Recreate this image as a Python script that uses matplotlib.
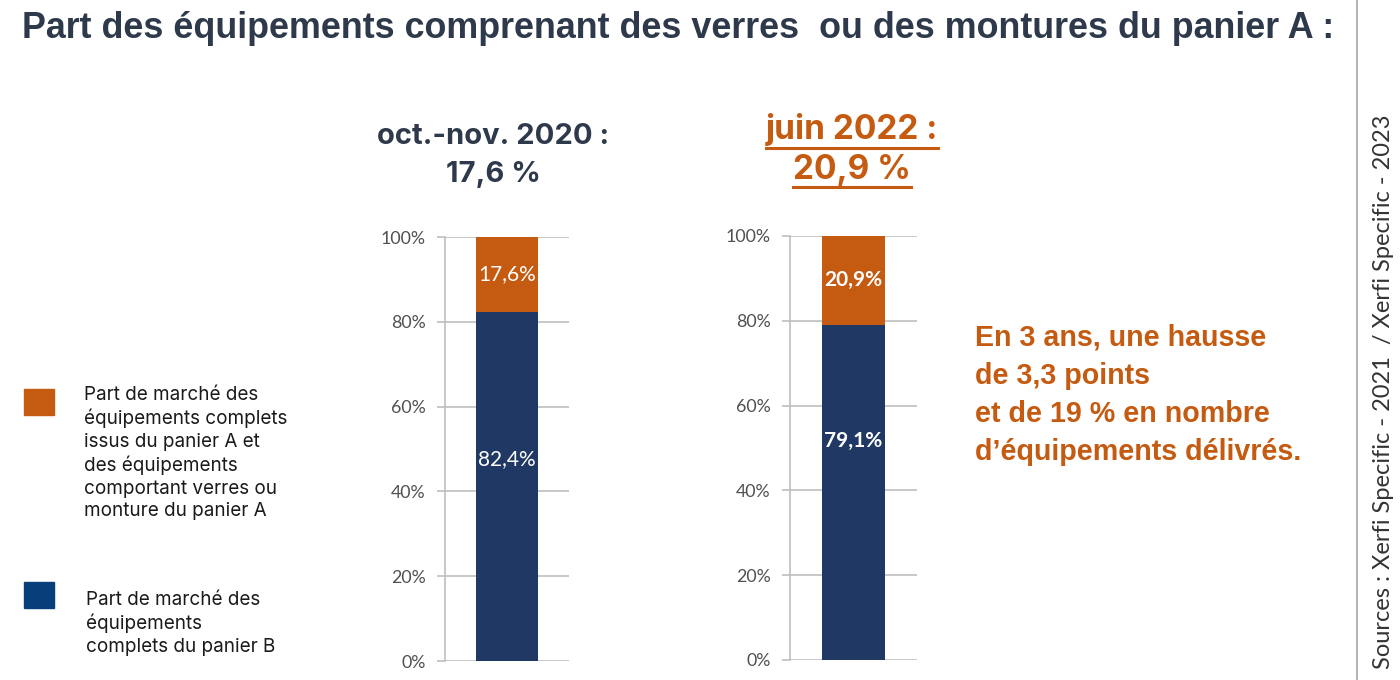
import matplotlib
matplotlib.use("Agg")
import matplotlib.pyplot as plt
from matplotlib.lines import Line2D

# --- data ---
periods = ["oct.-nov. 2020", "juin 2022"]
panier_a = [17.6, 20.9]
panier_b = [82.4, 79.1]
label_a = ["17,6%", "20,9%"]
label_b = ["82,4%", "79,1%"]
headline = ["17,6 %", "20,9 %"]
yticks = [0, 20, 40, 60, 80, 100]

ORANGE = "#c55a11"
NAVY = "#203864"
LEG_BLUE = "#063f7a"
DARK = "#2e3a4b"
GRID = "#bfbfbf"

W, H = 1400, 680
fig = plt.figure(figsize=(W / 100, H / 100), dpi=100)


def px_axes(left, right, top, bottom):
    return fig.add_axes([left / W, 1 - bottom / H, (right - left) / W, (bottom - top) / H])


# axes boxes in pixels: left, right, top, bottom
boxes = [(445, 569, 237, 661), (790, 917, 236, 660)]
label_b_y = [47.6, 51.6]   # where the white labels sit inside the blue bars
bold_lbl = [False, True]

for i, box in enumerate(boxes):
    ax = px_axes(*box)
    ax.bar([0], [panier_b[i]], width=0.5, color=NAVY, zorder=3)
    ax.bar([0], [panier_a[i]], bottom=[panier_b[i]], width=0.5, color=ORANGE, zorder=3)
    ax.set_xlim(-0.5, 0.5)
    ax.set_ylim(0, 100)
    ax.set_yticks(yticks)
    ax.set_yticklabels([f"{t}%" for t in yticks], fontfamily="Lato", fontsize=12.8, color="#505050")
    ax.set_xticks([])
    ax.grid(axis="y", color=GRID, linewidth=1.2, zorder=0)
    ax.tick_params(axis="y", length=6, color=GRID, width=1.2, pad=8)
    for s in ["top", "right", "bottom"]:
        ax.spines[s].set_visible(False)
    ax.spines["left"].set_color(GRID)
    ax.spines["left"].set_linewidth(1.2)
    ax.text(0, panier_b[i] + panier_a[i] / 2, label_a[i], ha="center", va="center",
            color="white", fontsize=15, fontfamily="Lato",
            fontweight="bold" if bold_lbl[i] else "normal", zorder=4)
    ax.text(0, label_b_y[i], label_b[i], ha="center", va="center",
            color="white", fontsize=15, fontfamily="Lato",
            fontweight="bold" if bold_lbl[i] else "normal", zorder=4)

# period headlines above the bars
head_x = [493, 852]
head_y = [137, 130]
head_gap = [37, 40]
head_size = [21, 24]
head_col = [DARK, ORANGE]
head_texts = []
for i in range(2):
    t1 = fig.text(head_x[i] / W, 1 - head_y[i] / H, periods[i] + " :", ha="center", va="center",
                  fontsize=head_size[i], fontweight="bold", fontfamily="Inter", color=head_col[i])
    t2 = fig.text(head_x[i] / W, 1 - (head_y[i] + head_gap[i]) / H, headline[i], ha="center",
                  va="center", fontsize=head_size[i], fontweight="bold", fontfamily="Inter",
                  color=head_col[i])
    head_texts.append((t1, t2))

# main title
fig.text(22 / W, 1 - 29 / H, "Part des équipements comprenant des verres  ou des montures du panier A :",
         ha="left", va="center", fontsize=25.8, fontweight="bold", fontfamily="Liberation Sans",
         color=DARK)

# right side annotation
fig.text(975 / W, 1 - 324 / H,
         "En 3 ans, une hausse\nde 3,3 points\net de 19 % en nombre\nd’équipements délivrés.",
         ha="left", va="top", fontsize=20.6, fontweight="bold", fontfamily="Liberation Sans",
         color=ORANGE, linespacing=1.45)

# legend
fig.patches.append(plt.Rectangle((24 / W, 1 - 415 / H), 30 / W, 26 / H, color=ORANGE,
                                 transform=fig.transFigure))
fig.patches.append(plt.Rectangle((24 / W, 1 - 608 / H), 30 / W, 26 / H, color=LEG_BLUE,
                                 transform=fig.transFigure))
fig.text(84 / W, 1 - 386 / H,
         "Part de marché des\néquipements complets\nissus du panier A et\ndes équipements\n"
         "comportant verres ou\nmonture du panier A",
         ha="left", va="top", fontsize=13.6, fontfamily="Inter", color="#1a1a1a", linespacing=1.32)
fig.text(86 / W, 1 - 591 / H, "Part de marché des\néquipements\ncomplets du panier B",
         ha="left", va="top", fontsize=13.6, fontfamily="Inter", color="#1a1a1a", linespacing=1.32)

# separator and source
fig.add_artist(Line2D([1357 / W, 1357 / W], [0, 1], color="#a6a6a6", linewidth=1.2))
fig.text(1383 / W, 1 - 392 / H, "Sources : Xerfi Specific - 2021  / Xerfi Specific - 2023",
         rotation=90, ha="center", va="center", fontsize=17, fontfamily="Lato", color="#333333")

# underline the 2022 headline
fig.canvas.draw()
r = fig.canvas.get_renderer()
for t in head_texts[1]:
    bb = t.get_window_extent(r)
    y = bb.y0 - 1
    fig.add_artist(Line2D([bb.x0 / W, bb.x1 / W], [y / H, y / H], color=ORANGE, linewidth=2.2))

fig.savefig("out.png", dpi=100)
